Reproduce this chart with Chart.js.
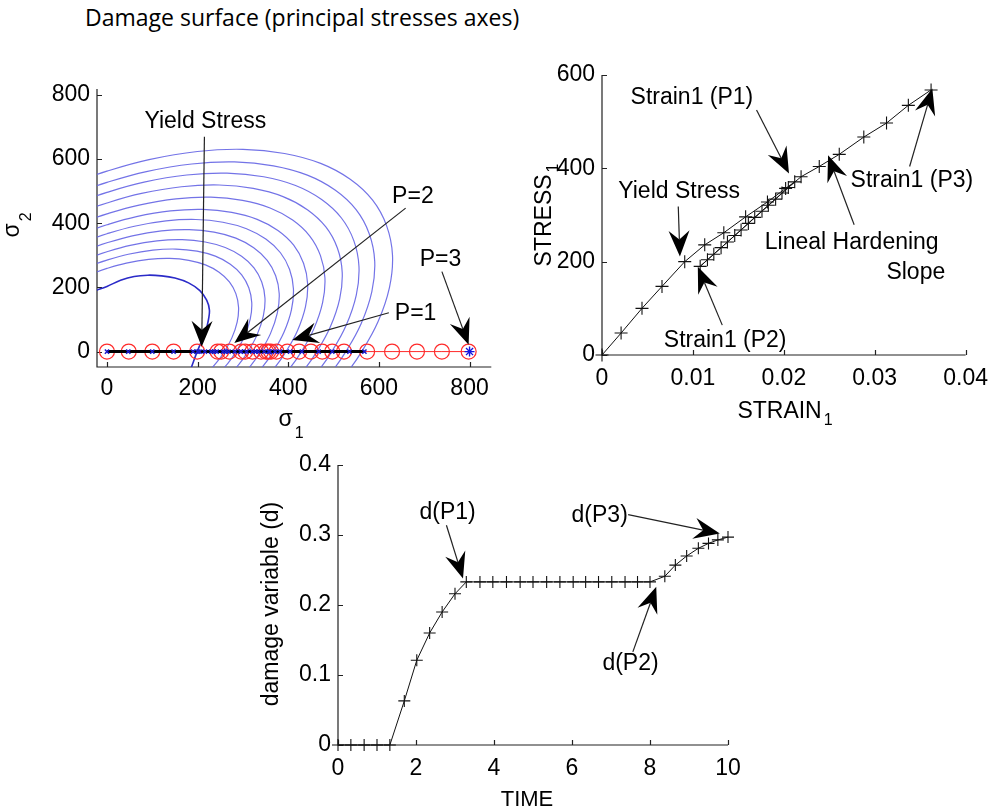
<!DOCTYPE html>
<html>
<head>
<meta charset="utf-8">
<script src="https://cdn.jsdelivr.net/npm/chart.js@4.4.0/dist/chart.umd.min.js"></script>
<style>
  html, body { margin: 0; padding: 0; background: #fff; }
  body { width: 998px; height: 810px; position: relative; overflow: hidden; }
  #title { position: absolute; left: 85px; top: 6px; font-family: 'Open Sans', sans-serif; font-size: 23px; line-height: 1; color: #000; white-space: nowrap; }
  canvas { position: absolute; }
</style>
</head>
<body>
<div id="title">Damage surface (principal stresses axes)</div>
<canvas id="surf" width="500" height="380" style="left:0px;top:60px"></canvas>
<canvas id="curve" width="488" height="380" style="left:510px;top:50px"></canvas>
<canvas id="damage" width="520" height="370" style="left:240px;top:440px"></canvas>
<script>
// ---------- load history: one entry per load step ----------
const STRAIN_1 = [0, 0.0021, 0.0044, 0.0066, 0.0091, 0.0113, 0.0134, 0.0158, 0.0182, 0.0202, 0.0212,
  0.0198, 0.0183, 0.0168, 0.0153, 0.0138, 0.0123, 0.0108,
  0.0116, 0.0131, 0.0146, 0.0161, 0.0176, 0.0191, 0.0205,
  0.0219, 0.0239, 0.0261, 0.0288, 0.0313, 0.0337, 0.0362];
const STRESS_1 = [0, 47, 100, 147, 200, 236, 262, 296, 328, 357, 371,
  347, 321, 295, 268, 242, 216, 190,
  204, 230, 256, 282, 308, 334, 359,
  382, 404, 430, 467, 497, 535, 568];

const TIME = [0, 0.33, 0.67, 1.0, 1.33, 1.7, 2.02, 2.35, 2.67, 3.0, 3.29,
  3.64, 3.97, 4.32, 4.67, 5.0, 5.35, 5.69, 6.03, 6.35, 6.68, 7.02, 7.36, 7.68, 8.0,
  8.38, 8.65, 8.94, 9.24, 9.5, 9.74, 10.0];
const DAMAGE = [0, 0, 0, 0, 0, 0.063, 0.121, 0.160, 0.190, 0.216, 0.233,
  0.233, 0.233, 0.233, 0.233, 0.233, 0.233, 0.233, 0.233, 0.233, 0.233, 0.233, 0.233, 0.233, 0.233,
  0.241, 0.257, 0.270, 0.281, 0.288, 0.293, 0.297];

// effective stress sigma_1 visited along the path (sigma_2 = 0)
const EFFECTIVE_SIGMA1 = [0, 48, 100, 147, 199, 244, 252, 270, 296, 305, 321, 340, 351, 356, 362, 374,
  398, 424, 450, 475, 497, 523, 574, 629, 684, 739, 798];
const P3_EFFECTIVE = 800;

// damage surfaces: initial (yield) surface and the grown surfaces
const YIELD_SURFACE = [[-25, 190], [0, 203], [30, 222], [60, 234], [90, 238], [120, 236], [150, 229],
  [180, 214], [205, 190], [220, 160], [226, 130], [224, 100], [218, 65], [208, 30], [199, 0], [186, -50]];
// surface levels: sigma_2 where each surface meets the sigma_1 = 0 axis
const SURFACE_LEVELS = [259, 285, 311, 339, 367, 395, 429, 463, 496, 527, 562];
// common outline of the grown surfaces, in units of the level
const SURFACE_SHAPE = [[-0.32, 0.814], [-0.128, 0.936], [0, 1], [0.165, 1.064], [0.355, 1.109],
  [0.534, 1.121], [0.697, 1.098], [0.839, 1.043], [0.955, 0.955], [1.043, 0.839], [1.098, 0.697],
  [1.121, 0.534], [1.109, 0.355], [1.064, 0.165], [1, 0], [0.936, -0.128], [0.814, -0.32]];

// ticks
const SURF_TICKS = [0, 200, 400, 600, 800];
const STRAIN_TICKS = [0, 0.01, 0.02, 0.03, 0.04];
const STRAIN_LABELS = ['0', '0.01', '0.02', '0.03', '0.04'];
const STRESS_TICKS = [0, 200, 400, 600];
const TIME_TICKS = [0, 2, 4, 6, 8, 10];
const DAMAGE_TICKS = [0, 0.1, 0.2, 0.3, 0.4];
const DAMAGE_LABELS = ['0', '0.1', '0.2', '0.3', '0.4'];

// callouts (data coordinates)
const SURF_NOTES = [
  { text: 'Yield Stress', at: [217, 716], from: [215, 669], to: [209, 15] },
  { text: 'P=2', at: [675, 482], from: [659, 447], to: [281, 27] },
  { text: 'P=1', at: [681, 117], from: [622, 121], to: [409, 36] },
  { text: 'P=3', at: [736, 286], from: [739, 249], to: [798, 21] }
];
const CURVE_NOTES = [
  { text: 'Strain1 (P1)', at: [0.00989, 552], from: [0.0170, 525], to: [0.02057, 389] },
  { text: 'Yield Stress', at: [0.00849, 350], from: [0.00839, 318], to: [0.00857, 211] },
  { text: 'Strain1 (P3)', at: [0.03409, 373], from: [0.03384, 404], to: [0.03634, 571] },
  { text: 'Lineal Hardening', at: [0.02747, 240], from: [0.02774, 279], to: [0.02487, 428] },
  { text: 'Slope', at: [0.03452, 177] },
  { text: 'Strain1 (P2)', at: [0.01355, 30], from: [0.01323, 64], to: [0.01054, 189] }
];
const DAMAGE_NOTES = [
  { text: 'd(P1)', at: [2.81, 0.332], from: [2.78, 0.314], to: [3.205, 0.238] },
  { text: 'd(P3)', at: [6.71, 0.327], from: [7.44, 0.329], to: [9.79, 0.302] },
  { text: 'd(P2)', at: [7.5, 0.116], from: [7.56, 0.133], to: [8.16, 0.226] }
];

const FONT = "'Liberation Sans', Arial, Helvetica, sans-serif";

function drawArrow(ctx, x1, y1, x2, y2) {
  const a = Math.atan2(y2 - y1, x2 - x1), c = Math.cos(a), s = Math.sin(a);
  const L = 26, H = 10.5, N = 17;
  ctx.save();
  ctx.strokeStyle = '#222';
  ctx.lineWidth = 1.2;
  ctx.beginPath();
  ctx.moveTo(x1, y1);
  ctx.lineTo(x2 - N * c, y2 - N * s);
  ctx.stroke();
  ctx.fillStyle = '#000';
  ctx.beginPath();
  ctx.moveTo(x2, y2);
  ctx.lineTo(x2 - L * c - H * s, y2 - L * s + H * c);
  ctx.lineTo(x2 - N * c, y2 - N * s);
  ctx.lineTo(x2 - L * c + H * s, y2 - L * s - H * c);
  ctx.closePath();
  ctx.fill();
  ctx.restore();
}

function drawSubLabel(ctx, o) {
  ctx.save();
  ctx.translate(o.x, o.y);
  if (o.rotate) ctx.rotate(-Math.PI / 2);
  ctx.fillStyle = '#000';
  ctx.textBaseline = 'alphabetic';
  ctx.textAlign = 'left';
  const mainFont = o.size + 'px ' + FONT, subFont = o.subSize + 'px ' + FONT;
  ctx.font = mainFont;
  const w = ctx.measureText(o.main).width;
  ctx.font = subFont;
  const ws = o.sub ? ctx.measureText(o.sub).width : 0;
  const total = w + (o.sub ? o.gap + ws : 0);
  const start = -total / 2;
  ctx.font = mainFont;
  ctx.fillText(o.main, start, 0);
  if (o.sub) {
    ctx.font = subFont;
    ctx.fillText(o.sub, start + w + o.gap, o.shift);
  }
  ctx.restore();
}

// axis lines, inward tick marks and axis titles
const axesDecor = {
  id: 'axesDecor',
  beforeDatasetsDraw(chart) {
    const { ctx, chartArea: a, scales: { x, y } } = chart;
    ctx.save();
    ctx.strokeStyle = '#222';
    ctx.lineWidth = 1.2;
    ctx.beginPath();
    ctx.moveTo(a.left, a.top);
    ctx.lineTo(a.left, a.bottom);
    ctx.lineTo(a.right, a.bottom);
    x.ticks.forEach(t => {
      const px = Math.round(x.getPixelForValue(t.value)) + 0.5;
      ctx.moveTo(px, a.bottom);
      ctx.lineTo(px, a.bottom - 5);
    });
    y.ticks.forEach(t => {
      const py = Math.round(y.getPixelForValue(t.value)) + 0.5;
      ctx.moveTo(a.left, py);
      ctx.lineTo(a.left + 5, py);
    });
    ctx.stroke();
    ctx.restore();
  },
  afterDraw(chart, args, o) {
    if (o.xTitle) drawSubLabel(chart.ctx, o.xTitle);
    if (o.yTitle) drawSubLabel(chart.ctx, Object.assign({ rotate: true }, o.yTitle));
  }
};

// callout text with arrows
const callouts = {
  id: 'callouts',
  afterDatasetsDraw(chart, args, o) {
    const { ctx, scales: { x, y } } = chart;
    (o.notes || []).forEach(n => {
      if (n.from) {
        drawArrow(ctx, x.getPixelForValue(n.from[0]), y.getPixelForValue(n.from[1]),
          x.getPixelForValue(n.to[0]), y.getPixelForValue(n.to[1]));
      }
      ctx.save();
      ctx.font = '23px ' + FONT;
      ctx.fillStyle = '#000';
      ctx.textAlign = 'center';
      ctx.textBaseline = 'middle';
      ctx.fillText(n.text, x.getPixelForValue(n.at[0]), y.getPixelForValue(n.at[1]));
      ctx.restore();
    });
  }
};

function axis(min, max, ticks, labels, pad, fitKey, fitSize) {
  return {
    type: 'linear', min, max,
    grid: { display: false, drawTicks: false },
    border: { display: false },
    afterBuildTicks: s => { s.ticks = ticks.map(v => ({ value: v })); },
    afterFit: s => { s[fitKey] = fitSize; },
    ticks: {
      font: { family: FONT, size: 23 }, color: '#000', padding: pad,
      maxRotation: 0, minRotation: 0, autoSkip: false,
      callback: (v, i) => (labels ? labels[i] : String(v))
    }
  };
}

function baseOptions(xAxis, yAxis, padding, notes, decor) {
  return {
    responsive: false, animation: false, events: [],
    layout: { padding },
    elements: { line: { capBezierPoints: false } },
    scales: { x: xAxis, y: yAxis },
    plugins: { legend: { display: false }, tooltip: { enabled: false },
      callouts: { notes }, axesDecor: decor }
  };
}

Chart.defaults.font.family = FONT;

// ---------- damage surface in principal stress space ----------
const surfaceSets = SURFACE_LEVELS.map(r => ({
  data: SURFACE_SHAPE.map(([a, b]) => ({ x: a * r, y: b * r })),
  showLine: true, borderColor: 'rgba(100, 100, 228, 0.9)', borderWidth: 1.2,
  pointRadius: 0, tension: 0.4, clip: 0
}));

new Chart(document.getElementById('surf'), {
  type: 'scatter',
  data: {
    datasets: [
      { data: [{ x: P3_EFFECTIVE, y: 0 }], pointStyle: 'star', pointRadius: 5,
        borderColor: '#1515e0', pointBorderWidth: 1.4, showLine: false },
      { data: STRESS_1.map(v => ({ x: v, y: 0 })), pointStyle: 'crossRot', pointRadius: 3,
        borderColor: '#1a1acc', pointBorderWidth: 1.5, showLine: false },
      { data: STRESS_1.map(v => ({ x: v, y: 0 })), showLine: true, borderColor: '#000',
        borderWidth: 3, pointRadius: 0 },
      { data: EFFECTIVE_SIGMA1.map(v => ({ x: v, y: 0 })), showLine: true, borderColor: '#ff2a2a',
        borderWidth: 1, pointStyle: 'circle', pointRadius: 7.5, pointBorderWidth: 1.2,
        pointBackgroundColor: 'rgba(0,0,0,0)', pointBorderColor: '#ff2a2a', clip: false },
      { data: YIELD_SURFACE.map(([a, b]) => ({ x: a, y: b })), showLine: true,
        borderColor: '#2b2bc8', borderWidth: 1.6, pointRadius: 0, tension: 0.4, clip: 0 },
      ...surfaceSets
    ]
  },
  options: baseOptions(
    axis(-22, 848, SURF_TICKS, null, 8, 'height', 73),
    axis(-48, 818, SURF_TICKS, null, 7, 'width', 97),
    { top: 29, right: 7, left: 0, bottom: 0 },
    SURF_NOTES,
    {
      xTitle: { main: 'σ', sub: '1', x: 291, y: 366, size: 23, subSize: 16, gap: 2, shift: 12 },
      yTitle: { main: 'σ', sub: '2', x: 19, y: 165, size: 23, subSize: 16, gap: 2, shift: 12 }
    }
  ),
  plugins: [axesDecor, callouts]
});

// ---------- stress-strain response ----------
new Chart(document.getElementById('curve'), {
  type: 'scatter',
  data: {
    datasets: [{
      data: STRAIN_1.map((e, i) => ({ x: e, y: STRESS_1[i] })),
      showLine: true, borderColor: '#111', borderWidth: 1,
      pointStyle: 'cross', pointRadius: 6.5, pointBorderWidth: 1.1, pointBorderColor: '#111',
      clip: false
    }]
  },
  options: baseOptions(
    axis(0, 0.04, STRAIN_TICKS, STRAIN_LABELS, 10, 'height', 75),
    axis(0, 600, STRESS_TICKS, null, 7, 'width', 92),
    { top: 25, right: 25, left: 0, bottom: 0 },
    CURVE_NOTES,
    {
      xTitle: { main: 'STRAIN', sub: '1', x: 275, y: 368, size: 23, subSize: 16, gap: 2, shift: 7 },
      yTitle: { main: 'STRESS', sub: '1', x: 41, y: 165, size: 23, subSize: 16, gap: 2, shift: 7 }
    }
  ),
  plugins: [axesDecor, callouts]
});

// ---------- damage evolution ----------
new Chart(document.getElementById('damage'), {
  type: 'scatter',
  data: {
    datasets: [{
      data: TIME.map((t, i) => ({ x: t, y: DAMAGE[i] })),
      showLine: true, borderColor: '#111', borderWidth: 1,
      pointStyle: 'cross', pointRadius: 6, pointBorderWidth: 1.1, pointBorderColor: '#111',
      clip: false
    }]
  },
  options: baseOptions(
    axis(0, 10, TIME_TICKS, null, 10, 'height', 65),
    axis(0, 0.4, DAMAGE_TICKS, DAMAGE_LABELS, 7, 'width', 98),
    { top: 25, right: 32, left: 0, bottom: 0 },
    DAMAGE_NOTES,
    {
      xTitle: { main: 'TIME', x: 287, y: 366, size: 22, subSize: 15, gap: 0, shift: 0 },
      yTitle: { main: 'damage variable (d)', x: 38, y: 164, size: 23, subSize: 15, gap: 0, shift: 0 }
    }
  ),
  plugins: [axesDecor, callouts]
});
</script>
</body>
</html>
